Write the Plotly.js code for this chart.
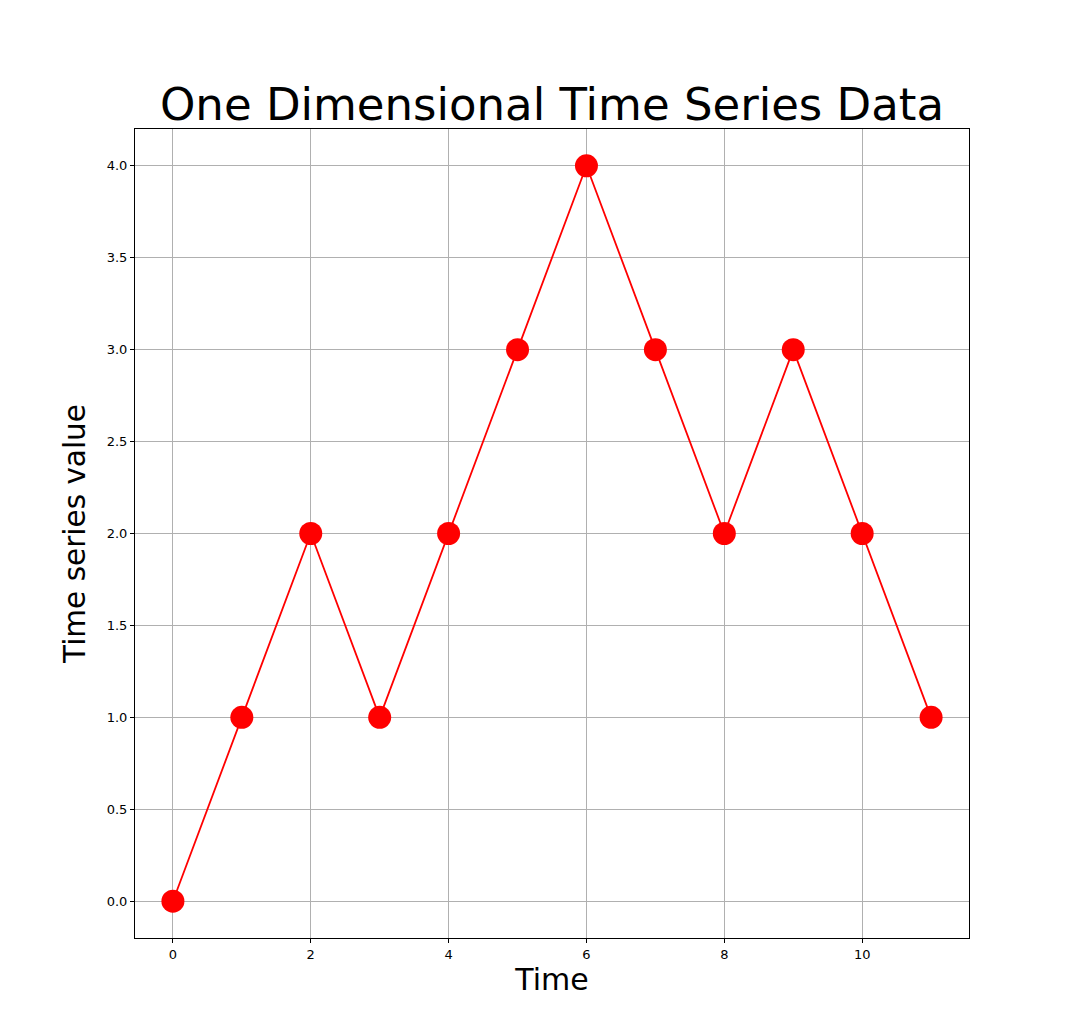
<!DOCTYPE html>
<html>
<head>
<meta charset="utf-8">
<script src="https://cdn.plot.ly/plotly-3.0.1.min.js"></script>
<style>
  html, body { margin: 0; padding: 0; background: #fff; }
  #plot { width: 1076px; height: 1029px; }
</style>
</head>
<body>
<div id="plot"></div>
<script>
var timeSteps = [0, 1, 2, 3, 4, 5, 6, 7, 8, 9, 10, 11];
var seriesValues = [0, 1, 2, 1, 2, 3, 4, 3, 2, 3, 2, 1];
var xTicks = [0, 2, 4, 6, 8, 10];
var yTicks = [0, 0.5, 1, 1.5, 2, 2.5, 3, 3.5, 4];

var trace = {
    x: timeSteps,
    y: seriesValues,
    mode: 'lines+markers',
    type: 'scatter',
    line: { color: '#ff0000', width: 1.8 },
    marker: { color: '#ff0000', size: 23 },
    hoverinfo: 'x+y'
};

var font = 'DejaVu Sans, sans-serif';

var layout = {
    width: 1076,
    height: 1029,
    paper_bgcolor: '#fff',
    plot_bgcolor: '#fff',
    showlegend: false,
    margin: { l: 135, r: 107, t: 129, b: 91 },
    title: {
        text: 'One Dimensional Time Series Data',
        font: { family: font, size: 45, color: '#000' },
        xref: 'paper', x: 0.5, xanchor: 'center',
        y: 1 - 104 / 1029, yanchor: 'middle'
    },
    xaxis: {
        range: [-0.55, 11.55],
        tickvals: xTicks,
        ticktext: xTicks.map(String),
        ticks: 'outside', ticklen: 4, tickcolor: '#000',
        tickfont: { family: font, size: 13, color: '#000' },
        showgrid: true, gridcolor: '#b0b0b0', gridwidth: 1,
        zeroline: false,
        showline: true, linecolor: '#000', linewidth: 1, mirror: true,
        title: { text: 'Time', font: { family: font, size: 30, color: '#000' }, standoff: 6 }
    },
    yaxis: {
        range: [-0.2, 4.2],
        tickvals: yTicks,
        ticktext: yTicks.map(function (v) { return v.toFixed(1); }),
        ticks: 'outside', ticklen: 4, tickcolor: '#000',
        tickfont: { family: font, size: 13, color: '#000' },
        showgrid: true, gridcolor: '#b0b0b0', gridwidth: 1,
        zeroline: false,
        showline: true, linecolor: '#000', linewidth: 1, mirror: true,
        title: { text: 'Time series value', font: { family: font, size: 29.5, color: '#000' }, standoff: 12 }
    }
};

Plotly.newPlot('plot', [trace], layout, { displayModeBar: false });
</script>
</body>
</html>
